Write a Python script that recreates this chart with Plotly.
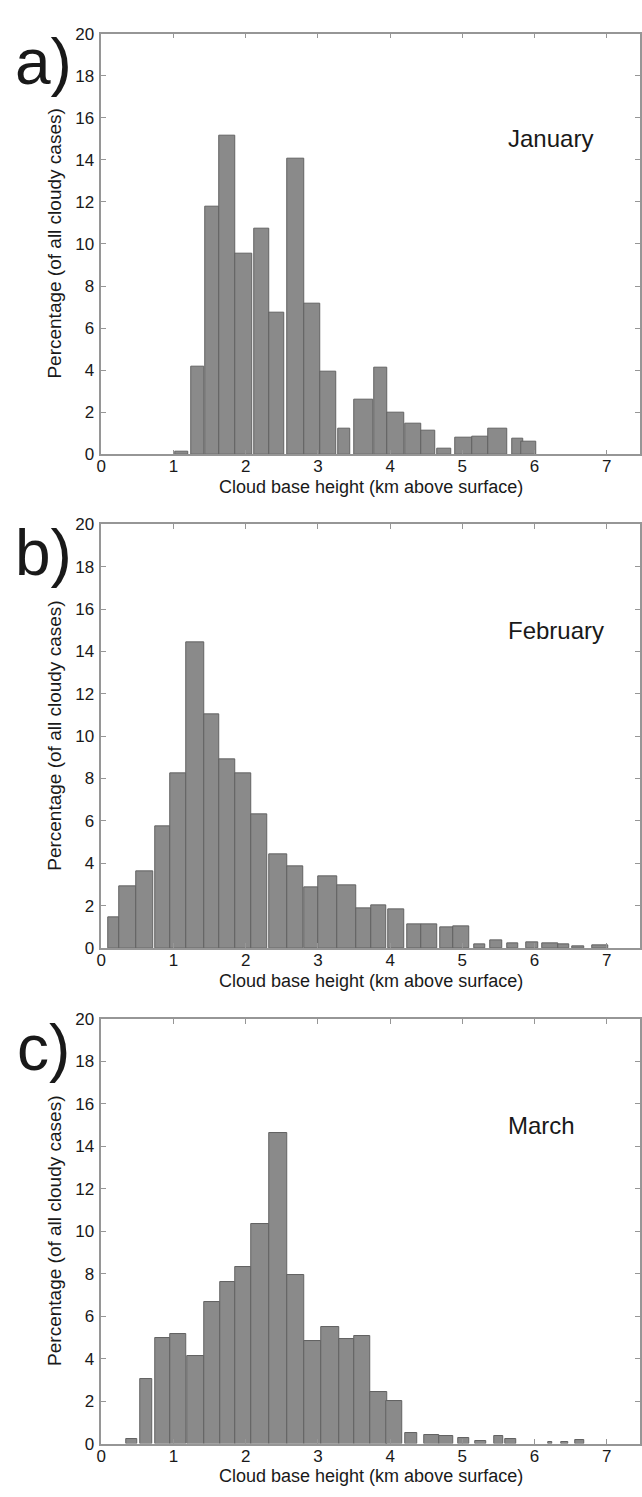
import plotly.graph_objects as go

# ---------------- data ----------------
months = ["January", "February", "March"]
panel_letters = ["a)", "b)", "c)"]

# bin edges (km above surface) and percentage of all cloudy cases
jan_left_km = [1.02, 1.24, 1.44, 1.64, 1.86, 2.12, 2.33, 2.58, 2.81, 3.03, 3.28,
               3.50, 3.78, 3.96, 4.21, 4.43, 4.65, 4.90, 5.13, 5.36, 5.69, 5.82]
jan_right_km = [1.21, 1.42, 1.64, 1.86, 2.09, 2.33, 2.53, 2.81, 3.03, 3.25, 3.45,
                3.77, 3.96, 4.20, 4.43, 4.62, 4.84, 5.13, 5.36, 5.62, 5.85, 6.02]
jan_pct = [0.10, 4.16, 11.75, 15.17, 9.55, 10.74, 6.73, 14.07, 7.15, 3.95, 1.21,
           2.58, 4.12, 1.98, 1.44, 1.10, 0.26, 0.79, 0.85, 1.22, 0.73, 0.60]

feb_left_km = [0.09, 0.25, 0.49, 0.75, 0.95, 1.18, 1.43, 1.64, 1.85, 2.08, 2.33,
               2.57, 2.81, 3.01, 3.27, 3.53, 3.74, 3.97, 4.24, 4.43, 4.69, 4.88,
               5.17, 5.38, 5.62, 5.88, 6.11, 6.33, 6.52, 6.80]
feb_right_km = [0.25, 0.49, 0.72, 0.95, 1.18, 1.43, 1.64, 1.85, 2.08, 2.30, 2.57,
                2.79, 3.01, 3.27, 3.53, 3.74, 3.94, 4.20, 4.43, 4.65, 4.88, 5.10,
                5.32, 5.55, 5.78, 6.05, 6.33, 6.48, 6.69, 7.02]
feb_pct = [1.42, 2.93, 3.63, 5.74, 8.23, 14.41, 11.04, 8.89, 8.26, 6.32, 4.40,
           3.86, 2.85, 3.39, 2.97, 1.88, 1.99, 1.82, 1.10, 1.10, 0.95, 1.04,
           0.16, 0.37, 0.20, 0.26, 0.20, 0.16, 0.09, 0.14]

mar_left_km = [0.34, 0.54, 0.75, 0.96, 1.19, 1.43, 1.65, 1.86, 2.08, 2.33, 2.58,
               2.81, 3.04, 3.29, 3.50, 3.72, 3.95, 4.21, 4.47, 4.68, 4.94, 5.18,
               5.44, 5.60, 6.19, 6.37, 6.57]
mar_right_km = [0.50, 0.71, 0.96, 1.17, 1.42, 1.65, 1.86, 2.08, 2.33, 2.58, 2.81,
                3.04, 3.29, 3.50, 3.72, 3.96, 4.17, 4.38, 4.68, 4.88, 5.10, 5.33,
                5.57, 5.74, 6.25, 6.46, 6.69]
mar_pct = [0.23, 3.02, 4.98, 5.18, 4.11, 6.65, 7.63, 8.31, 10.36, 14.62, 7.94,
           4.84, 5.47, 4.91, 5.05, 2.42, 2.00, 0.48, 0.42, 0.34, 0.26, 0.12,
           0.36, 0.20, 0.09, 0.06, 0.15]

x_tick_vals = [0, 1, 2, 3, 4, 5, 6, 7]
y_tick_vals = [0, 2, 4, 6, 8, 10, 12, 14, 16, 18, 20]

x_title = "Cloud base height (km above surface)"
y_title = "Percentage (of all cloudy cases)"

# ---------------- layout / style ----------------
W, H = 642, 1497
FONT = "Liberation Sans, Arial, sans-serif"
BAR_FILL = "rgb(138,138,138)"
BAR_EDGE = "rgb(98,98,98)"
AXIS_COL = "rgb(150,150,150)"
TEXT_COL = "rgb(25,25,25)"

# plot-area pixel boxes: (left, right, top, bottom)
boxes = [(97, 640, 25, 451), (97, 640, 522, 951), (97, 640, 1023, 1453)]

series = [(jan_left_km, jan_right_km, jan_pct),
          (feb_left_km, feb_right_km, feb_pct),
          (mar_left_km, mar_right_km, mar_pct)]

fig = go.Figure()
layout = dict(
    width=W, height=H,
    margin=dict(l=0, r=0, t=0, b=0),
    paper_bgcolor="white", plot_bgcolor="white",
    showlegend=False, bargap=0,
    font=dict(family=FONT, color=TEXT_COL, size=17),
    annotations=[],
)

for i, ((lefts, rights, pct), (l, r, t, b)) in enumerate(zip(series, boxes)):
    n = "" if i == 0 else str(i + 1)
    centers = [(a + c) / 2 for a, c in zip(lefts, rights)]
    widths = [c - a for a, c in zip(lefts, rights)]
    fig.add_trace(go.Bar(
        x=centers, y=pct, width=widths,
        marker=dict(color=BAR_FILL, line=dict(color=BAR_EDGE, width=1)),
        xaxis="x" + n, yaxis="y" + n,
    ))
    xd = [l / W, r / W]
    yd = [1 - b / H, 1 - t / H]
    layout["xaxis" + n] = dict(
        domain=xd, anchor="y" + n, range=[0, 7.46],
        tickvals=x_tick_vals, ticks="inside", ticklen=5, tickcolor=AXIS_COL,
        showline=True, linecolor=AXIS_COL, linewidth=1.5, mirror="ticks",
        showgrid=False, zeroline=False, ticklabelstandoff=-4,
        tickfont=dict(size=17, color=TEXT_COL),
    )
    layout["yaxis" + n] = dict(
        domain=yd, anchor="x" + n, range=[0, 20],
        tickvals=y_tick_vals, ticks="inside", ticklen=5, tickcolor=AXIS_COL,
        showline=True, linecolor=AXIS_COL, linewidth=1.5, mirror="ticks",
        showgrid=False, zeroline=False, ticklabelstandoff=2,
        tickfont=dict(size=17, color=TEXT_COL),
    )
    # month label
    layout["annotations"].append(dict(
        text=months[i], x=5.6, y=15, xref="x" + n, yref="y" + n,
        xanchor="left", yanchor="middle", showarrow=False,
        font=dict(size=24, color=TEXT_COL, family=FONT),
    ))
    # panel letter
    layout["annotations"].append(dict(
        text=panel_letters[i], x=39 / W, y=1 - (t + 29) / H,
        xref="paper", yref="paper", xanchor="center", yanchor="middle",
        showarrow=False, font=dict(size=64, color=TEXT_COL, family=FONT),
    ))
    # x-axis title
    layout["annotations"].append(dict(
        text=x_title, x=(l + r) / 2 / W, y=1 - (b + 33) / H,
        xref="paper", yref="paper", xanchor="center", yanchor="middle",
        showarrow=False, font=dict(size=18, color=TEXT_COL, family=FONT),
    ))
    # y-axis title
    layout["annotations"].append(dict(
        text=y_title, x=50 / W, y=1 - (t + b) / 2 / H, textangle=-90,
        xref="paper", yref="paper", xanchor="center", yanchor="middle",
        showarrow=False, font=dict(size=19, color=TEXT_COL, family=FONT),
    ))

fig.update_layout(**layout)
fig.write_html("out.html")
